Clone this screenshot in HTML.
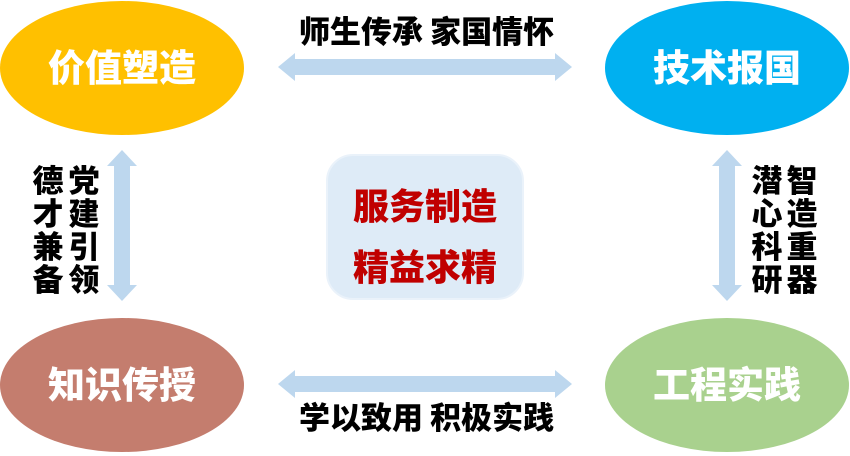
<!DOCTYPE html>
<html><head><meta charset="utf-8"><style>
html,body{margin:0;padding:0;background:#fff;}
svg{display:block}
text{font-family:"Noto Sans CJK SC","Liberation Sans",sans-serif;font-weight:900;}
</style></head><body>
<svg width="850" height="456" viewBox="0 0 850 456" xmlns="http://www.w3.org/2000/svg">
<ellipse cx="122" cy="68" rx="122" ry="67" fill="#FFC000"/>
<ellipse cx="727" cy="68" rx="122" ry="67" fill="#00B0F0"/>
<ellipse cx="122" cy="385" rx="122" ry="67" fill="#C47D6E"/>
<ellipse cx="727" cy="385" rx="122" ry="67" fill="#A9D18E"/>
<g fill="#fff" font-size="37" text-anchor="middle">
<text x="122" y="81">价值塑造</text>
<text x="727" y="81">技术报国</text>
<text x="122" y="398">知识传授</text>
<text x="727" y="398">工程实践</text>
</g>
<rect x="327" y="155" width="196" height="144" rx="26" fill="#DEEBF7" stroke="#EAF2FA" stroke-width="2"/>
<g fill="#C00000" font-size="36" text-anchor="middle">
<text x="425" y="219">服务制造</text>
<text x="425" y="280">精益求精</text>
</g>
<g fill="#BDD7EE">
<polygon points="278,67 295,53 295,59 555,59 555,53 572,67 555,81 555,75 295,75 295,81"/>
<polygon points="278,384 295,370 295,376 555,376 555,370 572,384 555,398 555,392 295,392 295,398"/>
<polygon points="122,150 137,166 130,166 130,285 137,285 122,301 107,285 114,285 114,166 107,166"/>
<polygon points="727,150 742,166 735,166 735,285 742,285 727,301 712,285 719,285 719,166 712,166"/>
</g>
<g fill="#000" font-size="31">
<text x="299" y="43">师生传承 家国情怀</text>
<text x="299" y="429">学以致用 积极实践</text>
</g>
<g fill="#000" font-size="31" text-anchor="middle">
<text x="48" y="192">德</text><text x="48" y="225">才</text><text x="48" y="258">兼</text><text x="48" y="291">备</text>
<text x="84" y="192">党</text><text x="84" y="225">建</text><text x="84" y="258">引</text><text x="84" y="291">领</text>
<text x="767" y="192">潜</text><text x="767" y="225">心</text><text x="767" y="258">科</text><text x="767" y="291">研</text>
<text x="802" y="192">智</text><text x="802" y="225">造</text><text x="802" y="258">重</text><text x="802" y="291">器</text>
</g>
</svg>
</body></html>
